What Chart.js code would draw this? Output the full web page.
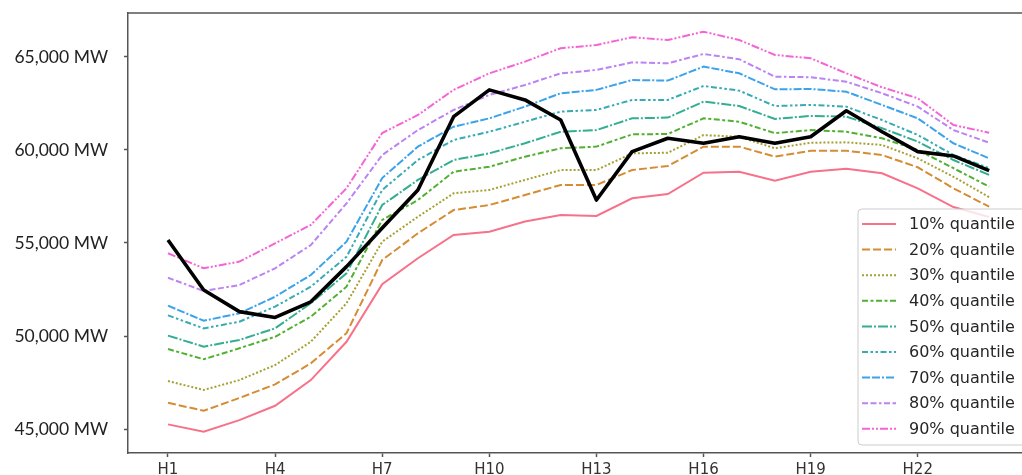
<!DOCTYPE html>
<html><head><meta charset="utf-8">
<script src="https://cdn.jsdelivr.net/npm/chart.js@4.4.1/dist/chart.umd.min.js"></script>
<style>html,body{margin:0;padding:0;background:#fff;overflow:hidden}#wrap{position:relative;width:1022px;height:475px}</style>
</head><body><div id="wrap"><canvas id="c" width="1022" height="475"></canvas></div>
<script>
const hours = ['H1','H2','H3','H4','H5','H6','H7','H8','H9','H10','H11','H12','H13','H14','H15','H16','H17','H18','H19','H20','H21','H22','H23','H24'];
const tickHours = ['H1','H4','H7','H10','H13','H16','H19','H22'];
const yTicks = [45000,50000,55000,60000,65000];

const q10 = [45250,44850,45480,46250,47630,49690,52790,54180,55430,55610,56150,56500,56450,57400,57630,58780,58830,58350,58830,58990,58750,57940,56930,56400];
const q20 = [46410,45980,46670,47400,48530,50150,54085,55520,56770,57040,57580,58120,58120,58920,59140,60180,60180,59640,59960,59960,59730,59070,57940,56950];
const q30 = [47580,47100,47630,48440,49690,51760,55070,56410,57670,57850,58390,58920,58920,59820,59850,60800,60710,60090,60390,60410,60270,59550,58560,57460];
const q40 = [49300,48750,49340,49960,51040,52650,56240,57310,58830,59100,59640,60090,60180,60840,60860,61700,61520,60900,61070,60980,60630,60000,59020,58030];
const q50 = [50020,49430,49790,50410,51760,53370,57040,58390,59460,59820,60360,60980,61070,61700,61740,62600,62360,61670,61830,61790,61170,60450,59460,58660];
const q60 = [51110,50410,50770,51580,52650,54260,57850,59460,60540,60980,61520,62060,62150,62690,62690,63440,63190,62360,62420,62330,61610,60810,59730,59020];
const q70 = [51630,50820,51220,52110,53280,55070,58490,60180,61250,61700,62330,63050,63230,63760,63730,64480,64120,63260,63280,63130,62420,61700,60360,59550];
const q80 = [53130,52420,52740,53640,54890,57130,59730,61070,62150,62960,63490,64120,64300,64710,64660,65160,64880,63940,63910,63670,63050,62330,61070,60390];
const q90 = [54450,53640,54000,54980,55970,57940,60910,61880,63230,64120,64750,65470,65640,66060,65910,66360,65910,65110,64930,64120,63370,62780,61340,60930];
const actual = [55160,52470,51310,51000,51840,53730,55810,57850,61790,63230,62690,61610,57310,59910,60630,60360,60710,60360,60710,62110,60980,59910,59680,58890];

const seriesLabels = ['10% quantile','20% quantile','30% quantile','40% quantile','50% quantile','60% quantile','70% quantile','80% quantile','90% quantile'];
const seriesValues = [q10,q20,q30,q40,q50,q60,q70,q80,q90];
const colors = ['#f77189','#d58c32','#a4a031','#50b131','#34ae91','#37abb4','#3ba3ec','#bb83f4','#f564d4'];
const dashes = [[],[8,3],[2,2],[6,2.5,3,2.5],[10,2,2,2],[6,2.5,2.5,2.5,2.5,2.5],[8,2,8,2,2,2],[6,2.5,6,2.5,2.5,2.5],[8,2,2,2,2,2]];

const toPts = arr => arr.map((v,i)=>({x:i,y:v}));

const datasets = seriesValues.map((vals,k)=>({
  label: seriesLabels[k],
  data: toPts(vals),
  borderColor: colors[k],
  borderDash: dashes[k],
  borderWidth: 2,
  pointRadius: 0,
  tension: 0,
  fill: false,
  order: 10-k,
  inLegend: true
}));
datasets.push({
  label: 'actual',
  data: toPts(actual),
  borderColor: '#000000',
  borderWidth: 3.6,
  pointRadius: 0,
  tension: 0,
  fill: false,
  order: 0,
  inLegend: false,
  borderJoinStyle: 'round'
});

const axisColor = '#555555';

const framePlugin = {
  id: 'frame',
  afterDraw(chart){
    const {ctx, chartArea} = chart;
    ctx.save();
    ctx.strokeStyle = axisColor;
    ctx.lineWidth = 1.5;
    ctx.beginPath();
    ctx.moveTo(chartArea.left-0.75, chartArea.top);
    ctx.lineTo(chartArea.right+2, chartArea.top);
    ctx.stroke();
    // legend
    const x0 = 858, y0 = 209, w = 180, h = 236;
    ctx.beginPath();
    ctx.roundRect(x0, y0, w, h, 4);
    ctx.fillStyle = 'rgba(255,255,255,0.8)';
    ctx.fill();
    ctx.strokeStyle = '#cccccc';
    ctx.lineWidth = 1;
    ctx.stroke();
    const items = chart.data.datasets.filter(d=>d.inLegend);
    items.forEach((d,i)=>{
      const y = 224 + i*25.6;
      ctx.beginPath();
      ctx.setLineDash(d.borderDash || []);
      ctx.strokeStyle = d.borderColor;
      ctx.lineWidth = d.borderWidth;
      ctx.moveTo(862, y);
      ctx.lineTo(896, y);
      ctx.stroke();
      ctx.setLineDash([]);
      ctx.fillStyle = '#262626';
      ctx.font = '16px "DejaVu Sans"';
      ctx.textBaseline = 'middle';
      ctx.textAlign = 'left';
      ctx.fillText(d.label, 909, y+1);
    });
    ctx.restore();
  }
};

new Chart(document.getElementById('c'), {
  type: 'line',
  data: { datasets },
  options: {
    responsive: false,
    animation: false,
    layout: { padding: { top: 13, right: 0, left: 0, bottom: 0 } },
    plugins: { legend: { display: false }, tooltip: { enabled: false } },
    scales: {
      x: {
        type: 'linear',
        min: -1.12,
        max: 23.92,
        afterBuildTicks: s => { s.ticks = tickHours.map(h=>({value: hours.indexOf(h)})); },
        afterFit: s => { s.height = 22; s.paddingLeft = 0; s.paddingRight = 0; },
        ticks: {
          autoSkip: false, maxRotation: 0, padding: 4,
          color: '#333333',
          font: { family: 'DejaVu Sans', size: 15 },
          callback: v => hours[v]
        },
        grid: { display: true, drawOnChartArea: false, drawTicks: true, tickLength: 4, color: axisColor, tickWidth: 1.5 },
        border: { display: true, color: axisColor, width: 1.5 }
      },
      y: {
        type: 'linear',
        min: 43711,
        max: 67363,
        afterBuildTicks: s => { s.ticks = yTicks.map(v=>({value: v})); },
        afterFit: s => { s.width = 128; s.paddingTop = 0; s.paddingBottom = 0; },
        ticks: {
          padding: 16,
          color: '#222222',
          font: { family: 'Lato', size: 17.5 },
          callback: v => v.toLocaleString('en-US') + ' MW'
        },
        grid: { display: true, drawOnChartArea: false, drawTicks: true, tickLength: 4, color: axisColor, tickWidth: 1.5 },
        border: { display: true, color: axisColor, width: 1.5 }
      }
    }
  },
  plugins: [framePlugin]
});
</script>
</body></html>
